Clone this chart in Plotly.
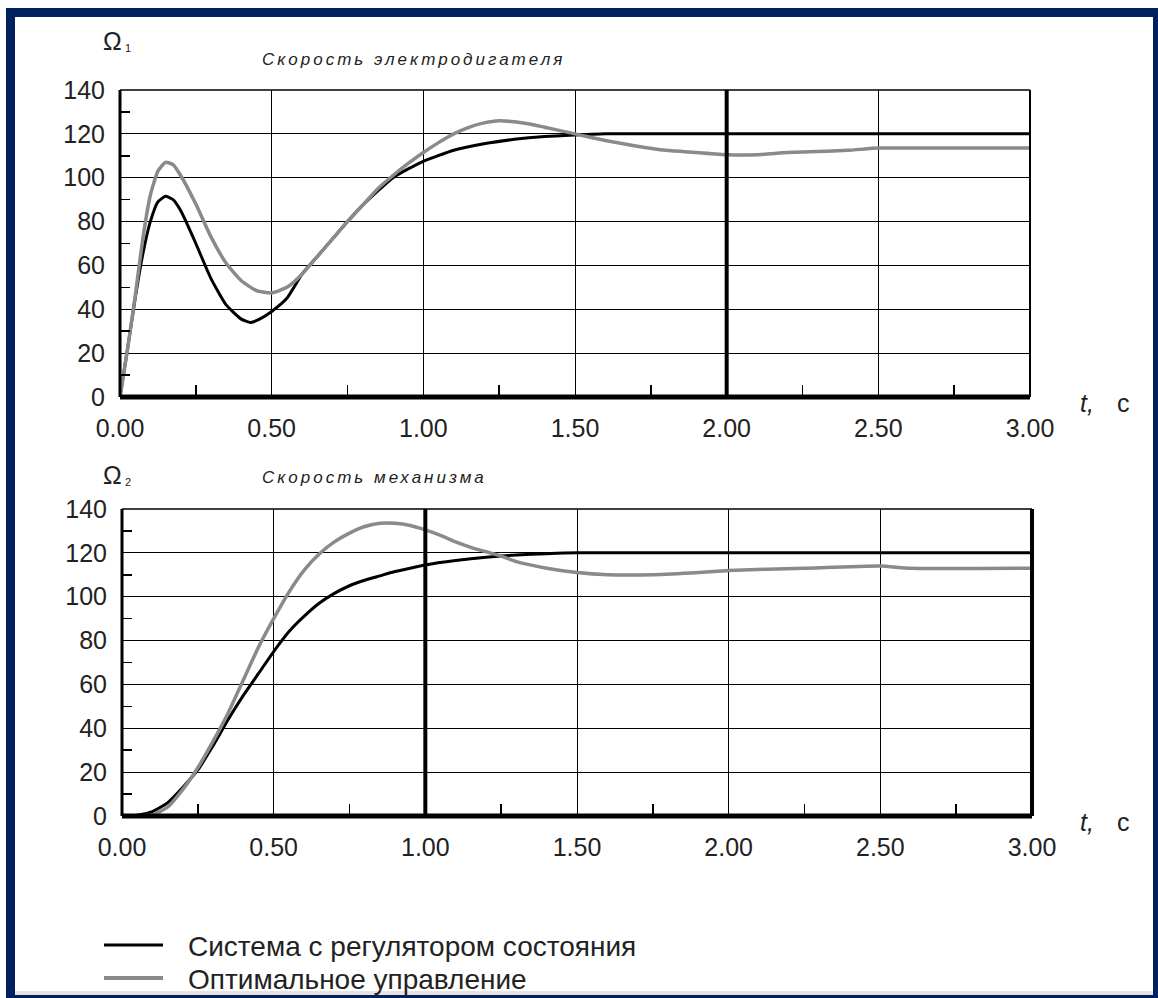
import plotly.graph_objects as go

# ---------------- data ----------------
# Top panel: motor speed Omega1
t1_reg = [0.00, 0.025, 0.05, 0.075, 0.10, 0.125, 0.15, 0.175, 0.20, 0.25, 0.30, 0.35,
          0.40, 0.43, 0.46, 0.50, 0.55, 0.60, 0.65, 0.70, 0.75, 0.80, 0.85, 0.90,
          0.95, 1.00, 1.10, 1.20, 1.30, 1.40, 1.50, 1.60, 2.00, 2.50, 3.00]
w1_reg = [0, 22, 45, 65, 80, 89, 91.5, 90, 85, 70, 54, 42,
          35.5, 34, 35.5, 39, 45, 56, 64, 72, 80, 87.5, 94, 100,
          104, 107.5, 112.5, 115.5, 117.5, 118.8, 119.5, 120, 120, 120, 120]

t1_opt = [0.00, 0.025, 0.05, 0.075, 0.10, 0.125, 0.15, 0.175, 0.20, 0.25, 0.30, 0.35,
          0.40, 0.45, 0.50, 0.55, 0.60, 0.65, 0.70, 0.75, 0.80, 0.85, 0.90, 0.95,
          1.00, 1.05, 1.10, 1.15, 1.20, 1.25, 1.30, 1.35, 1.40, 1.50, 1.60, 1.70,
          1.80, 1.90, 2.00, 2.10, 2.20, 2.30, 2.40, 2.50, 2.60, 2.80, 3.00]
w1_opt = [0, 22, 46, 72, 92, 103, 107, 106, 101, 88, 73, 61,
          53, 48.5, 47.5, 50, 56, 64, 72, 80, 87.5, 95, 101, 106.5,
          111.5, 116, 120, 123, 125, 126, 125.5, 124.5, 123, 120, 117, 114.5,
          112.5, 111.5, 110.5, 110.5, 111.5, 112, 112.5, 113.5, 113.5, 113.5, 113.5]

# Bottom panel: mechanism speed Omega2
t2_reg = [0.00, 0.05, 0.10, 0.15, 0.20, 0.25, 0.30, 0.35, 0.40, 0.45, 0.50, 0.55,
          0.60, 0.65, 0.70, 0.75, 0.80, 0.85, 0.90, 0.95, 1.00, 1.10, 1.20, 1.30,
          1.40, 1.50, 2.00, 2.50, 3.00]
w2_reg = [0, 0.3, 2, 6, 13, 21, 32, 44, 55, 65, 75, 84,
          91, 97, 101.5, 105, 107.5, 109.5, 111.5, 113, 114.5, 116.5, 118, 119,
          119.6, 120, 120, 120, 120]

t2_opt = [0.00, 0.10, 0.15, 0.20, 0.25, 0.30, 0.35, 0.40, 0.45, 0.50, 0.55, 0.60,
          0.65, 0.70, 0.75, 0.80, 0.85, 0.90, 0.95, 1.00, 1.05, 1.10, 1.15, 1.20,
          1.25, 1.30, 1.40, 1.50, 1.60, 1.75, 1.90, 2.00, 2.25, 2.50, 2.60, 3.00]
w2_opt = [0, 0.5, 4, 12, 22, 34, 47, 62, 77, 90, 102, 112,
          119.5, 125, 129, 132, 133.5, 133.5, 132.5, 130.5, 128, 125, 122.5, 120.5,
          118.5, 116, 113, 111, 110, 110, 111, 112, 113, 114, 113, 113]

x_ticks = [0, 0.5, 1.0, 1.5, 2.0, 2.5, 3.0]
x_labels = ["0.00", "0.50", "1.00", "1.50", "2.00", "2.50", "3.00"]
x_minor = [0.25, 0.75, 1.25, 1.75, 2.25, 2.75]
y_ticks = [0, 20, 40, 60, 80, 100, 120, 140]
y_minor = [10, 30, 50, 70, 90, 110, 130]

title_top = "Скорость электродигателя"
title_bottom = "Скорость механизма"
legend_names = ["Система с регулятором состояния", "Оптимальное управление"]
cursor_top = 2.0
cursor_bottom = 1.0

# ---------------- figure ----------------
W, H = 1158, 998
def px(x):
    return x / W
def py(y):
    return 1 - y / H

BLACK = "#000000"
GRAY = "#8a8a8a"
NAVY = "#00205F"
FONT = "Liberation Sans, Arial, sans-serif"
TXT = "#222222"

fig = go.Figure()
line_kw = dict(shape="spline", smoothing=0.5)
fig.add_trace(go.Scatter(x=t1_reg, y=w1_reg, mode="lines", name=legend_names[0],
                         line=dict(color=BLACK, width=3, **line_kw), xaxis="x", yaxis="y",
                         showlegend=False))
fig.add_trace(go.Scatter(x=t1_opt, y=w1_opt, mode="lines", name=legend_names[1],
                         line=dict(color=GRAY, width=3.5, **line_kw), xaxis="x", yaxis="y",
                         showlegend=False))
fig.add_trace(go.Scatter(x=t2_reg, y=w2_reg, mode="lines", name=legend_names[0],
                         line=dict(color=BLACK, width=3, **line_kw), xaxis="x2", yaxis="y2",
                         showlegend=False))
fig.add_trace(go.Scatter(x=t2_opt, y=w2_opt, mode="lines", name=legend_names[1],
                         line=dict(color=GRAY, width=3.5, **line_kw), xaxis="x2", yaxis="y2",
                         showlegend=False))

def xaxis(domain, anchor):
    return dict(domain=domain, anchor=anchor, range=[0, 3], tickmode="array",
                tickvals=x_ticks, ticktext=x_labels, showgrid=True, gridcolor=BLACK,
                gridwidth=1, zeroline=False, showline=False, ticks="",
                ticklabelstandoff=14, automargin=False,
                tickfont=dict(family=FONT, size=25, color=TXT),
                minor=dict(tickvals=x_minor, ticks="inside", ticklen=12,
                           tickcolor=BLACK, tickwidth=1.5, showgrid=False),
                fixedrange=True)

def yaxis(domain, anchor):
    return dict(domain=domain, anchor=anchor, range=[0, 140], tickmode="array",
                tickvals=y_ticks, showgrid=True, gridcolor=BLACK, gridwidth=1,
                zeroline=False, showline=False, ticks="", ticklabelstandoff=14,
                automargin=False,
                tickfont=dict(family=FONT, size=25, color=TXT),
                minor=dict(tickvals=y_minor, ticks="inside", ticklen=10,
                           tickcolor=BLACK, tickwidth=1.5, showgrid=False),
                fixedrange=True)

fig.update_layout(
    width=W, height=H, margin=dict(l=0, r=0, t=0, b=0, pad=0, autoexpand=False),
    paper_bgcolor="white", plot_bgcolor="white", showlegend=False,
    xaxis=xaxis([px(120), px(1030)], "y"),
    yaxis=yaxis([py(397), py(90)], "x"),
    xaxis2=xaxis([px(122), px(1032)], "y2"),
    yaxis2=yaxis([py(816), py(509)], "x2"),
)

shapes = []
# plot frames
for xr, yr, rw in (("x domain", "y domain", 2), ("x2 domain", "y2 domain", 4)):
    shapes.append(dict(type="line", xref=xr, yref=yr, x0=0, x1=1, y0=0, y1=0,
                       line=dict(color=BLACK, width=5)))
    shapes.append(dict(type="line", xref=xr, yref=yr, x0=0, x1=0, y0=0, y1=1,
                       line=dict(color=BLACK, width=3)))
    shapes.append(dict(type="line", xref=xr, yref=yr, x0=0, x1=1, y0=1, y1=1,
                       line=dict(color=BLACK, width=1.5)))
    shapes.append(dict(type="line", xref=xr, yref=yr, x0=1, x1=1, y0=0, y1=1,
                       line=dict(color=BLACK, width=rw)))
# cursors
shapes.append(dict(type="line", xref="x", yref="y domain", x0=cursor_top, x1=cursor_top,
                   y0=0, y1=1, line=dict(color=BLACK, width=4)))
shapes.append(dict(type="line", xref="x2", yref="y2 domain", x0=cursor_bottom,
                   x1=cursor_bottom, y0=0, y1=1, line=dict(color=BLACK, width=4)))
# outer navy frame
for x0, x1, y0, y1 in ((6, 15, 8, 998), (6, 1158, 8, 17), (1153, 1158, 8, 998),
                       (6, 1158, 995, 998)):
    shapes.append(dict(type="rect", xref="paper", yref="paper", x0=px(x0), x1=px(x1),
                       y0=py(y1), y1=py(y0), fillcolor=NAVY, line=dict(width=0)))
shapes.append(dict(type="rect", xref="paper", yref="paper", x0=px(15), x1=px(1153),
                   y0=py(995), y1=py(991), fillcolor="#e4e4e4", line=dict(width=0)))
# legend sample lines
shapes.append(dict(type="line", xref="paper", yref="paper", x0=px(104), x1=px(163),
                   y0=py(945), y1=py(945), line=dict(color=BLACK, width=3)))
shapes.append(dict(type="line", xref="paper", yref="paper", x0=px(104), x1=px(163),
                   y0=py(978), y1=py(978), line=dict(color=GRAY, width=4)))
fig.update_layout(shapes=shapes)

ann = []
def text(x, y, s, size, xanchor="left", style="normal", color=TXT):
    ann.append(dict(xref="paper", yref="paper", x=px(x), y=py(y), text=s,
                    showarrow=False, xanchor=xanchor, yanchor="middle",
                    font=dict(family=FONT, size=size, color=color, style=style)))

text(112, 41, "Ω", 25, xanchor="center")
text(123, 48, "1", 11)
text(112, 475, "Ω", 25, xanchor="center")
text(123, 482, "2", 11)
text(260, 60, '<span style="letter-spacing:3px">' + title_top + "</span>", 17,
     style="italic")
text(260, 478, '<span style="letter-spacing:3px">' + title_bottom + "</span>", 17,
     style="italic")
for yc in (403, 822):
    text(1078, yc, "t,", 25, style="italic")
    text(1115, yc, "c", 25)
text(186, 946, legend_names[0], 28)
text(186, 979, legend_names[1], 28)
fig.update_layout(annotations=ann)

fig.write_html("out.html", config={"displayModeBar": False, "staticPlot": True},
               post_script="document.body.style.margin='0';")
